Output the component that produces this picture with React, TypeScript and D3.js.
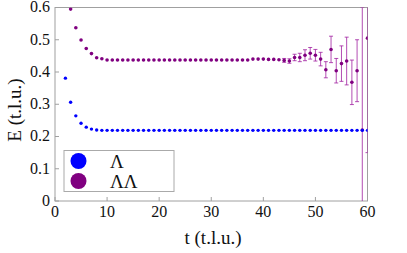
import React, { useEffect, useRef } from 'react';
import * as d3 from 'd3';

const lambdaT = [2, 3, 4, 5, 6, 7, 8, 9, 10, 11, 12, 13, 14, 15, 16, 17, 18, 19, 20, 21, 22, 23, 24, 25, 26, 27, 28, 29, 30, 31, 32, 33, 34, 35, 36, 37, 38, 39, 40, 41, 42, 43, 44, 45, 46, 47, 48, 49, 50, 51, 52, 53, 54, 55, 56, 57, 58, 59, 60];
const lambdaE = [0.381, 0.306, 0.264, 0.241, 0.229, 0.223, 0.220, 0.219, 0.219, 0.219, 0.219, 0.219, 0.219, 0.219, 0.219, 0.219, 0.219, 0.219, 0.219, 0.219, 0.219, 0.219, 0.219, 0.219, 0.219, 0.219, 0.219, 0.219, 0.219, 0.219, 0.219, 0.219, 0.219, 0.219, 0.219, 0.219, 0.219, 0.219, 0.219, 0.219, 0.219, 0.219, 0.219, 0.219, 0.219, 0.219, 0.219, 0.219, 0.219, 0.219, 0.219, 0.219, 0.219, 0.219, 0.219, 0.219, 0.219, 0.219, 0.219];

const lambdaLambdaT = [3, 4, 5, 6, 7, 8, 9, 10, 11, 12, 13, 14, 15, 16, 17, 18, 19, 20, 21, 22, 23, 24, 25, 26, 27, 28, 29, 30, 31, 32, 33, 34, 35, 36, 37, 38, 39, 40, 41, 42, 43, 44, 45, 46, 47, 48, 49, 50, 51, 52, 53, 54, 55, 56, 57, 58, 59, 60];
const lambdaLambdaE = [0.595, 0.537, 0.499, 0.473, 0.457, 0.444, 0.441, 0.437, 0.437, 0.437, 0.437, 0.437, 0.437, 0.437, 0.437, 0.437, 0.437, 0.437, 0.437, 0.437, 0.437, 0.437, 0.437, 0.437, 0.437, 0.437, 0.437, 0.437, 0.437, 0.437, 0.437, 0.437, 0.437, 0.437, 0.437, 0.440, 0.440, 0.440, 0.439, 0.439, 0.438, 0.436, 0.434, 0.445, 0.445, 0.452, 0.458, 0.452, 0.440, 0.407, 0.470, 0.404, 0.426, 0.434, 0.368, 0.404, 0.220, 0.505];
const lambdaLambdaErr = [0, 0, 0, 0, 0, 0, 0, 0, 0, 0, 0, 0, 0, 0, 0, 0, 0, 0, 0, 0, 0, 0, 0, 0, 0, 0, 0, 0, 0, 0, 0, 0, 0, 0, 0, 0, 0, 0, 0, 0, 0.003, 0.006, 0.007, 0.010, 0.013, 0.017, 0.018, 0.018, 0.021, 0.025, 0.041, 0.038, 0.055, 0.074, 0.069, 0.096, 0.38, 0.355];

const xTicks = [0, 10, 20, 30, 40, 50, 60];
const yTicks = [0, 0.1, 0.2, 0.3, 0.4, 0.5, 0.6];

const legendItems = [
  { label: 'Λ', color: '#0000ff' },
  { label: 'ΛΛ', color: '#800080' },
];

const W = 407;
const H = 253;
const FONT = "Times New Roman, Times, Liberation Serif, Tinos, Noto Serif, DejaVu Serif, serif";

export default function App() {
  const svgRef = useRef<SVGSVGElement>(null);

  useEffect(() => {
    if (!svgRef.current) return;
    const svg = d3.select(svgRef.current);
    svg.selectAll('*').remove();

    const left = 55, right = 367.5, top = 7.5, bottom = 201;
    const x = d3.scaleLinear().domain([0, 60]).range([left, right]);
    const y = d3.scaleLinear().domain([0, 0.6]).range([bottom, top]);
    const frame = '#a0a0a0';

    svg.append('defs').append('clipPath').attr('id', 'plotclip')
      .append('rect')
      .attr('x', left).attr('y', top)
      .attr('width', right - left).attr('height', bottom - top);

    // frame
    svg.append('rect')
      .attr('x', left).attr('y', top)
      .attr('width', right - left).attr('height', bottom - top)
      .attr('fill', 'none').attr('stroke', frame).attr('stroke-width', 1);

    // ticks (inside)
    svg.append('g').selectAll('line').data(xTicks).enter().append('line')
      .attr('x1', d => x(d)).attr('x2', d => x(d))
      .attr('y1', bottom).attr('y2', bottom - 4)
      .attr('stroke', frame);
    svg.append('g').selectAll('line').data(yTicks).enter().append('line')
      .attr('x1', left).attr('x2', left + 4)
      .attr('y1', d => y(d)).attr('y2', d => y(d))
      .attr('stroke', frame);

    const txt = svg.append('g').style('font-family', FONT).attr('fill', '#111');

    // tick labels
    txt.append('g').selectAll('text').data(xTicks).enter().append('text')
      .attr('x', d => x(d)).attr('y', 217)
      .attr('text-anchor', 'middle')
      .style('font-size', '16px')
      .text(d => d3.format('d')(d));
    txt.append('g').selectAll('text').data(yTicks).enter().append('text')
      .attr('x', 50).attr('y', d => y(d) + 4.8)
      .attr('text-anchor', 'end')
      .style('font-size', '16px')
      .text(d => (d === 0 ? '0' : d3.format('.1f')(d)));

    // axis titles
    txt.append('text')
      .attr('x', 213).attr('y', 244)
      .attr('text-anchor', 'middle')
      .style('font-size', '19px')
      .text('t (t.l.u.)');
    txt.append('text')
      .attr('transform', 'translate(20.5,110) rotate(-90)')
      .attr('text-anchor', 'middle')
      .style('font-size', '19px')
      .text('E (t.l.u.)');

    const plot = svg.append('g').attr('clip-path', 'url(#plotclip)');

    // ΛΛ error bars
    const ll = lambdaLambdaT.map((t, i) => ({ t, e: lambdaLambdaE[i], err: lambdaLambdaErr[i] }));
    const bars = plot.append('g').selectAll('g').data(ll.filter(d => d.err > 0.004)).enter().append('g')
      .attr('stroke', '#a020a0').attr('stroke-opacity', 0.8).attr('stroke-width', 1);
    bars.append('line')
      .attr('x1', d => x(d.t)).attr('x2', d => x(d.t))
      .attr('y1', d => y(d.e - d.err)).attr('y2', d => y(d.e + d.err));
    bars.append('line')
      .attr('x1', d => x(d.t) - 2).attr('x2', d => x(d.t) + 2)
      .attr('y1', d => y(d.e - d.err)).attr('y2', d => y(d.e - d.err));
    bars.append('line')
      .attr('x1', d => x(d.t) - 2).attr('x2', d => x(d.t) + 2)
      .attr('y1', d => y(d.e + d.err)).attr('y2', d => y(d.e + d.err));

    plot.append('g').selectAll('circle').data(ll).enter().append('circle')
      .attr('cx', d => x(d.t)).attr('cy', d => y(d.e))
      .attr('r', 1.8).attr('fill', '#800080');

    plot.append('g').selectAll('circle').data(lambdaT.map((t, i) => ({ t, e: lambdaE[i] }))).enter().append('circle')
      .attr('cx', d => x(d.t)).attr('cy', d => y(d.e))
      .attr('r', 1.7).attr('fill', '#0000ff');

    // legend
    const lg = svg.append('g');
    lg.append('rect')
      .attr('x', 64).attr('y', 150.5).attr('width', 110).attr('height', 41)
      .attr('fill', '#fff').attr('stroke', '#aaa').attr('stroke-width', 1);
    const items = lg.selectAll('g.item').data(legendItems).enter().append('g')
      .attr('class', 'item')
      .attr('transform', (d, i) => `translate(0,${161 + i * 20})`);
    items.append('circle').attr('cx', 78.5).attr('cy', 0).attr('r', 8).attr('fill', d => d.color);
    items.append('text')
      .attr('x', 110).attr('y', 6.5)
      .style('font-family', FONT).style('font-size', '19px').attr('fill', '#111')
      .text(d => d.label);
  }, []);

  return (
    <svg ref={svgRef} width={W} height={H} style={{ position: 'absolute', left: 0, top: 0, background: '#fff' }} />
  );
}
